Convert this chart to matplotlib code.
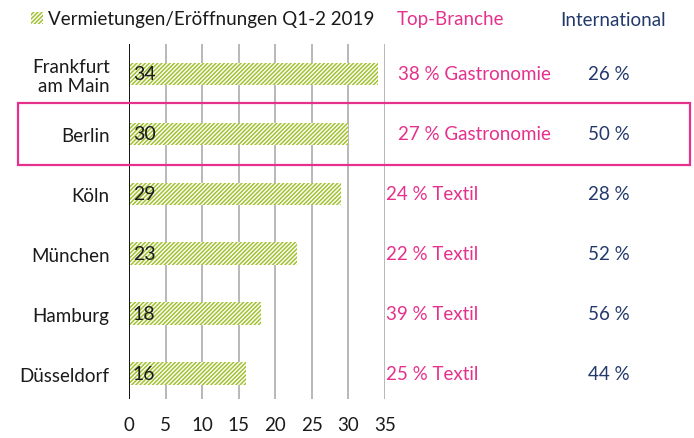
import matplotlib
matplotlib.use("Agg")
import matplotlib.pyplot as plt
from matplotlib.patches import Rectangle, Patch
import matplotlib.transforms as mtransforms

plt.rcParams['font.family'] = ['Lato', 'DejaVu Sans']
plt.rcParams['hatch.linewidth'] = 1.1

# data
cities = ["Frankfurt\nam Main", "Berlin", "Köln", "München", "Hamburg", "Düsseldorf"]
lettings = [34, 30, 29, 23, 18, 16]
top_branche = ["38 % Gastronomie", "27 % Gastronomie", "24 % Textil",
               "22 % Textil", "39 % Textil", "25 % Textil"]
international = ["26 %", "50 %", "28 %", "52 %", "56 %", "44 %"]
legend_label = "Vermietungen/Eröffnungen Q1-2 2019"
xticks = [0, 5, 10, 15, 20, 25, 30, 35]

GREEN = "#a2c232"
PINK = "#e5318b"
NAVY = "#23396b"
GRID = "#b8b8b8"
TXT = "#1a1a1a"

W, H = 694, 439
fig = plt.figure(figsize=(W / 100, H / 100), dpi=100)
ax = fig.add_axes([129 / W, 1 - 400 / H, (385 - 129) / W, (400 - 45) / H])

ypos = list(range(len(cities)))
ax.barh(ypos, lettings, height=0.38, color="white", edgecolor=GREEN,
        hatch="////////", linewidth=0, zorder=2)

for y, v in zip(ypos, lettings):
    ax.text(0.5, y, str(v), ha="left", va="center", fontsize=14,
            color=TXT, zorder=3)

ax.set_xlim(0, 35)
ax.set_ylim(5.42, -0.5)
ax.set_xticks(xticks)
ax.set_xticklabels([str(t) for t in xticks], fontsize=13.5, color=TXT)
ax.set_yticks(ypos)
ax.set_yticklabels(cities, fontsize=13.5, color=TXT, linespacing=1.1)
ax.tick_params(axis="x", length=0, pad=12)
ax.tick_params(axis="y", length=0, pad=14)
for t in xticks[1:]:
    ax.axvline(t, color=GRID, linewidth=1.4, zorder=1)
ax.axvline(0, color="#111111", linewidth=1.4, zorder=4)
for s in ax.spines.values():
    s.set_visible(False)

# right-hand columns
trans = mtransforms.blended_transform_factory(fig.transFigure, ax.transData)
for y, b, i in zip(ypos, top_branche, international):
    bx = 398 if "Gastronomie" in b else 386
    fig.text(bx / W, y, b, transform=trans, ha="left", va="center",
             fontsize=13.5, color=PINK)
    fig.text(609 / W, y, i, transform=trans, ha="center", va="center",
             fontsize=13.5, color=NAVY)

fig.text(397 / W, 1 - 20 / H, "Top-Branche", ha="left", va="center",
         fontsize=13.5, color=PINK)
fig.text(613 / W, 1 - 20 / H, "International", ha="center", va="center",
         fontsize=13.5, color=NAVY)

# legend
fig.legend(handles=[Patch(facecolor="white", edgecolor=GREEN, hatch="////////",
                          linewidth=0, label=legend_label)],
           loc="center left", bbox_to_anchor=(31 / W, 1 - 20 / H),
           frameon=False, fontsize=13.5, handlelength=0.65, handleheight=0.65,
           handletextpad=0.25, borderpad=0, borderaxespad=0, labelcolor=TXT)

# highlight box around Berlin
fig.add_artist(Rectangle((18 / W, 1 - 0.52), (690 - 18) / W, 1.04,
                         transform=trans, fill=False, edgecolor=PINK,
                         linewidth=1.6, clip_on=False))

fig.savefig("out.png", dpi=100)
